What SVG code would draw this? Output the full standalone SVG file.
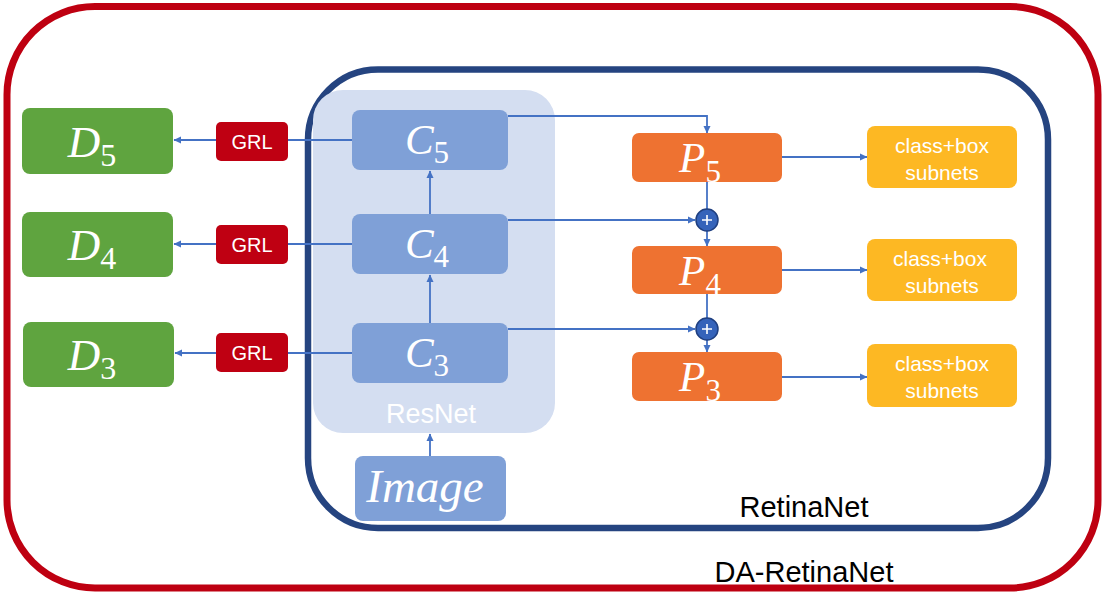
<svg xmlns="http://www.w3.org/2000/svg" width="1107" height="597" viewBox="0 0 1107 597">
<defs>
<marker id="arr" markerWidth="8" markerHeight="8" refX="7" refY="4" orient="auto" markerUnits="userSpaceOnUse">
<path d="M0,0.5 L7.5,4 L0,7.5 Z" fill="#4472C4"/>
</marker>
<style>
.conn{fill:none;stroke:#4472C4;stroke-width:1.8}
.d{fill:#5FA43F}
.c{fill:#7FA0D7}
.p{fill:#EE7231}
.s{fill:#FDB823}
.g{fill:#BF0012}
.math{font-family:"Liberation Serif","Times New Roman",serif;font-style:italic;fill:#fff}
.sub{font-family:"Liberation Serif","Times New Roman",serif;font-style:normal;fill:#fff}
.lab{font-family:"Liberation Sans",Arial,sans-serif;fill:#fff}
.blk{font-family:"Liberation Sans",Arial,sans-serif;fill:#000}
</style>
</defs>
<rect width="1107" height="597" fill="#fff"/>
<g id="da-retinanet">
<rect x="7" y="6.5" width="1091" height="581.5" rx="88" fill="none" stroke="#BE0011" stroke-width="7"/>
<text class="blk" x="804" y="582" font-size="29" text-anchor="middle">DA-RetinaNet</text>
</g>
<g id="retinanet">
<rect x="308" y="69.5" width="740" height="458.5" rx="70" fill="none" stroke="#254480" stroke-width="6.5"/>
<text class="blk" x="804" y="517" font-size="29" text-anchor="middle">RetinaNet</text>
</g>
<g id="resnet">
<rect x="313" y="90" width="242" height="343" rx="30" fill="#D4DEF1"/>
<text class="lab" x="431" y="423" font-size="27" text-anchor="middle">ResNet</text>
</g>
<g id="connectors">
<path class="conn" d="M352,140 H174" marker-end="url(#arr)"/>
<path class="conn" d="M352,244 H174" marker-end="url(#arr)"/>
<path class="conn" d="M352,353 H175" marker-end="url(#arr)"/>
<path class="conn" d="M430,214 V171" marker-end="url(#arr)"/>
<path class="conn" d="M430,323 V275" marker-end="url(#arr)"/>
<path class="conn" d="M430,456 V434" marker-end="url(#arr)"/>
<path class="conn" d="M508,116 H707 V133" marker-end="url(#arr)"/>
<path class="conn" d="M508,220 H695" marker-end="url(#arr)"/>
<path class="conn" d="M508,329 H695" marker-end="url(#arr)"/>
<path class="conn" d="M707,182 V209"/>
<path class="conn" d="M707,231 V246" marker-end="url(#arr)"/>
<path class="conn" d="M707,294 V318"/>
<path class="conn" d="M707,340 V352" marker-end="url(#arr)"/>
<path class="conn" d="M782,157 H867" marker-end="url(#arr)"/>
<path class="conn" d="M782,270 H867" marker-end="url(#arr)"/>
<path class="conn" d="M782,377 H867" marker-end="url(#arr)"/>
</g>
<g id="sum1">
<circle cx="707" cy="220" r="11" fill="#3563BA" stroke="#1F3F80" stroke-width="1.5"/>
<path d="M702,220 H712 M707,215 V225" stroke="#fff" stroke-width="1.6"/>
</g>
<g id="sum2">
<circle cx="707" cy="329" r="11" fill="#3563BA" stroke="#1F3F80" stroke-width="1.5"/>
<path d="M702,329 H712 M707,324 V334" stroke="#fff" stroke-width="1.6"/>
</g>
<g id="D5">
<rect class="d" x="22" y="108" width="151" height="66" rx="8"/>
<text x="92" y="157" text-anchor="middle"><tspan class="math" font-size="45">D</tspan><tspan class="sub" font-size="32" dy="9">5</tspan></text>
</g>
<g id="D4">
<rect class="d" x="22" y="212" width="151" height="65" rx="8"/>
<text x="92" y="260" text-anchor="middle"><tspan class="math" font-size="45">D</tspan><tspan class="sub" font-size="32" dy="9">4</tspan></text>
</g>
<g id="D3">
<rect class="d" x="23" y="322" width="151" height="65" rx="8"/>
<text x="92" y="370" text-anchor="middle"><tspan class="math" font-size="45">D</tspan><tspan class="sub" font-size="32" dy="9">3</tspan></text>
</g>
<g id="GRL5">
<rect class="g" x="216" y="122" width="72" height="39" rx="5"/>
<text class="lab" x="252" y="149" font-size="20" text-anchor="middle">GRL</text>
</g>
<g id="GRL4">
<rect class="g" x="216" y="225" width="72" height="39" rx="5"/>
<text class="lab" x="252" y="252" font-size="20" text-anchor="middle">GRL</text>
</g>
<g id="GRL3">
<rect class="g" x="216" y="333" width="72" height="39" rx="5"/>
<text class="lab" x="252" y="360" font-size="20" text-anchor="middle">GRL</text>
</g>
<g id="C5">
<rect class="c" x="352" y="110" width="156" height="60" rx="8"/>
<text x="427" y="154" text-anchor="middle"><tspan class="math" font-size="43">C</tspan><tspan class="sub" font-size="31" dy="9">5</tspan></text>
</g>
<g id="C4">
<rect class="c" x="352" y="214" width="156" height="60" rx="8"/>
<text x="427" y="258" text-anchor="middle"><tspan class="math" font-size="43">C</tspan><tspan class="sub" font-size="31" dy="9">4</tspan></text>
</g>
<g id="C3">
<rect class="c" x="352" y="323" width="156" height="60" rx="8"/>
<text x="427" y="367" text-anchor="middle"><tspan class="math" font-size="43">C</tspan><tspan class="sub" font-size="31" dy="9">3</tspan></text>
</g>
<g id="Image">
<rect class="c" x="355" y="456" width="151" height="65" rx="8"/>
<text class="math" x="425" y="502" font-size="47" text-anchor="middle">Image</text>
</g>
<g id="P5">
<rect class="p" x="632" y="133" width="150" height="49" rx="7"/>
<text x="700" y="172" text-anchor="middle"><tspan class="math" font-size="43">P</tspan><tspan class="sub" font-size="31" dy="10">5</tspan></text>
</g>
<g id="P4">
<rect class="p" x="632" y="246" width="150" height="48" rx="7"/>
<text x="700" y="285" text-anchor="middle"><tspan class="math" font-size="43">P</tspan><tspan class="sub" font-size="31" dy="10">4</tspan></text>
</g>
<g id="P3">
<rect class="p" x="632" y="352" width="150" height="49" rx="7"/>
<text x="700" y="391" text-anchor="middle"><tspan class="math" font-size="43">P</tspan><tspan class="sub" font-size="31" dy="10">3</tspan></text>
</g>
<g id="S5">
<rect class="s" x="867" y="126" width="150" height="62" rx="8"/>
<text class="lab" x="942" y="153" font-size="21" text-anchor="middle">class+box</text>
<text class="lab" x="942" y="180" font-size="21" text-anchor="middle">subnets</text>
</g>
<g id="S4">
<rect class="s" x="867" y="239" width="150" height="62" rx="8"/>
<text class="lab" x="940" y="266" font-size="21" text-anchor="middle">class+box</text>
<text class="lab" x="942" y="293" font-size="21" text-anchor="middle">subnets</text>
</g>
<g id="S3">
<rect class="s" x="867" y="344" width="150" height="63" rx="8"/>
<text class="lab" x="942" y="371" font-size="21" text-anchor="middle">class+box</text>
<text class="lab" x="942" y="398" font-size="21" text-anchor="middle">subnets</text>
</g>
</svg>
